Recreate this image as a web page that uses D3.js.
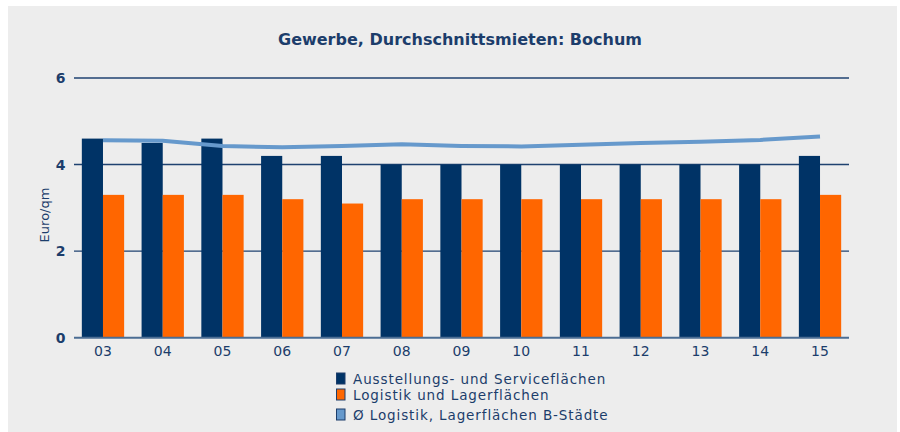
<!DOCTYPE html>
<html>
<head>
<meta charset="utf-8">
<script src="https://cdn.jsdelivr.net/npm/d3@7"></script>
<style>
  html, body { margin: 0; padding: 0; background: #ffffff; }
  svg { display: block; }
  text { font-family: "DejaVu Sans", Verdana, sans-serif; }
</style>
</head>
<body>
<svg id="chart" width="900" height="432"></svg>
<script>
const categories = ["03","04","05","06","07","08","09","10","11","12","13","14","15"];
const ausstellung = [4.6,4.5,4.6,4.2,4.2,4.0,4.0,4.0,4.0,4.0,4.0,4.0,4.2];
const logistik    = [3.3,3.3,3.3,3.2,3.1,3.2,3.2,3.2,3.2,3.2,3.2,3.2,3.3];
const bStaedte    = [4.56,4.55,4.43,4.40,4.43,4.47,4.43,4.42,4.46,4.50,4.53,4.57,4.65];
const yTicks = [0,2,4,6];
const seriesNames = ["Ausstellungs- und Serviceflächen","Logistik und Lagerflächen","Ø Logistik, Lagerflächen B-Städte"];
const title = "Gewerbe, Durchschnittsmieten: Bochum";
const yLabel = "Euro/qm";

const colNavy = "#003366", colOrange = "#ff6600", colLight = "#6699cc", colText = "#1c3d6b";

const svg = d3.select("#chart");
svg.append("rect").attr("x", 8).attr("y", 6).attr("width", 889).attr("height", 426).attr("fill", "#ededed");

const pLeft = 74, pRight = 849, pTop = 78, pBottom = 337.7;
const x0 = d3.scaleBand().domain(categories).range([pLeft, pRight]).paddingInner(0.292).paddingOuter(0.131);
const x1 = d3.scaleBand().domain([0,1]).range([0, x0.bandwidth()]);
const y = d3.scaleLinear().domain([0,6]).range([pBottom, pTop]);

svg.append("text").attr("x", 460).attr("y", 45).attr("text-anchor", "middle")
  .attr("font-size", 16).attr("font-weight", "bold").attr("fill", colText).text(title);

// gridlines
const grid = svg.append("g");
grid.selectAll("line").data(yTicks.filter(d => d > 0)).enter().append("line")
  .attr("x1", pLeft).attr("x2", pRight).attr("y1", d => y(d)).attr("y2", d => y(d))
  .attr("stroke", "#1f4270").attr("stroke-width", 1.4);

// y labels
svg.append("g").selectAll("text").data(yTicks).enter().append("text")
  .attr("x", 65.5).attr("y", d => y(d)).attr("dy", "0.36em").attr("text-anchor", "end")
  .attr("font-size", 14).attr("font-weight", "bold").attr("fill", colText).text(d => d);

// bars
const groups = svg.append("g").selectAll("g").data(categories).enter().append("g")
  .attr("transform", d => `translate(${x0(d)},0)`);
groups.append("rect").attr("x", x1(0)).attr("width", x1.bandwidth())
  .attr("y", (d,i) => y(ausstellung[i])).attr("height", (d,i) => y(0) - y(ausstellung[i])).attr("fill", colNavy);
groups.append("rect").attr("x", x1(1)).attr("width", x1.bandwidth())
  .attr("y", (d,i) => y(logistik[i])).attr("height", (d,i) => y(0) - y(logistik[i])).attr("fill", colOrange);

// baseline
svg.append("line").attr("x1", pLeft).attr("x2", pRight).attr("y1", y(0)).attr("y2", y(0))
  .attr("stroke", "#4b6d93").attr("stroke-width", 2);

// line
const line = d3.line().x((d,i) => x0(categories[i]) + x0.bandwidth()/2).y(d => y(d));
svg.append("path").datum(bStaedte).attr("d", line).attr("fill", "none")
  .attr("stroke", colLight).attr("stroke-width", 4);

// x labels
svg.append("g").selectAll("text").data(categories).enter().append("text")
  .attr("x", d => x0(d) + x0.bandwidth()/2).attr("y", 356).attr("text-anchor", "middle")
  .attr("font-size", 14).attr("fill", colText).text(d => d);

// y axis title
svg.append("text").attr("transform", "translate(49,215) rotate(-90)").attr("text-anchor", "middle")
  .attr("font-size", 13).attr("fill", colText).text(yLabel);

// legend
const legendY = [384, 400, 420];
const legendCols = [colNavy, colOrange, colLight];
const lg = svg.append("g").selectAll("g").data(seriesNames).enter().append("g");
lg.append("rect").attr("x", 336.5).attr("y", (d,i) => legendY[i] - 11).attr("width", 8.5).attr("height", 11)
  .attr("fill", (d,i) => legendCols[i]).attr("stroke", "#1c3d6b").attr("stroke-width", 1);
lg.append("text").attr("x", 353).attr("y", (d,i) => legendY[i])
  .attr("font-size", 13.5).attr("letter-spacing", 0.9).attr("fill", colText).text(d => d);
</script>
</body>
</html>
